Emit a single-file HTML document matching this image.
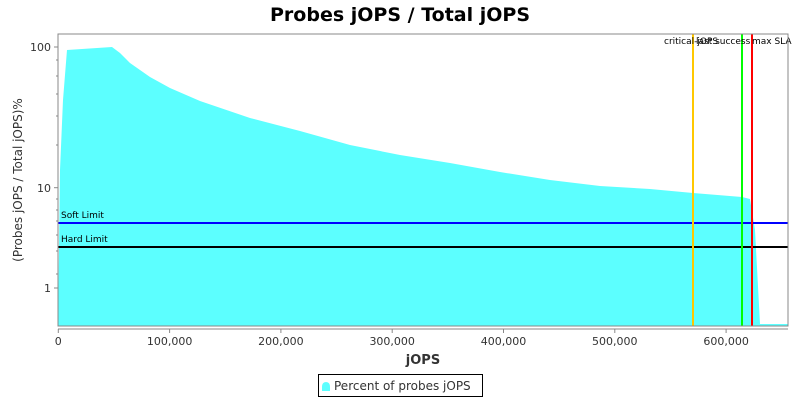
<!DOCTYPE html>
<html><head><meta charset="utf-8"><style>
body{margin:0;background:#fff;width:800px;height:400px;overflow:hidden}
text{font-family:"DejaVu Sans","Liberation Sans",sans-serif}
</style></head><body>
<svg width="800" height="400" viewBox="0 0 800 400" xmlns="http://www.w3.org/2000/svg">
<text x="400" y="21" text-anchor="middle" font-size="19" font-weight="bold">Probes jOPS / Total jOPS</text>
<rect x="58" y="34" width="730" height="292" fill="#fff"/>
<polygon fill="#5cffff" points="58,326 60,170 63,100 67,50 112,47 120,53 130,63 140,70 150,77 170,88 200,101 250,118 300,131 350,145 400,155 450,163 500,172 550,180 600,186 650,189 693,193 742,197 750,199 755,230 760,324 788,324 788,326"/>
<line x1="58" y1="223" x2="788" y2="223" stroke="#0000ff" stroke-width="2"/>
<line x1="58" y1="247" x2="788" y2="247" stroke="#000" stroke-width="2"/>
<text x="61" y="218" font-size="9">Soft Limit</text>
<text x="61" y="242" font-size="9">Hard Limit</text>
<line x1="693" y1="34" x2="693" y2="326" stroke="#ffc800" stroke-width="2"/>
<line x1="742" y1="34" x2="742" y2="326" stroke="#00ff00" stroke-width="2"/>
<line x1="752" y1="34" x2="752" y2="326" stroke="#ff0000" stroke-width="2"/>
<text x="664" y="44" font-size="9">critical-jOPS</text>
<text x="696" y="44" font-size="9">last success</text>
<text x="752" y="44" font-size="9">max SLA</text>
<rect x="58" y="34" width="730" height="292" fill="none" stroke="#888" stroke-width="1"/>
<g stroke="#888" stroke-width="1">
<line x1="54" y1="47" x2="58" y2="47"/><line x1="54" y1="187.7" x2="58" y2="187.7"/><line x1="54" y1="288" x2="58" y2="288"/>
<line x1="56" y1="60" x2="58" y2="60"/><line x1="56" y1="76" x2="58" y2="76"/><line x1="56" y1="94" x2="58" y2="94"/><line x1="56" y1="116" x2="58" y2="116"/><line x1="56" y1="145" x2="58" y2="145"/>
<line x1="56" y1="199" x2="58" y2="199"/><line x1="56" y1="210" x2="58" y2="210"/><line x1="56" y1="221" x2="58" y2="221"/><line x1="56" y1="235" x2="58" y2="235"/><line x1="56" y1="251" x2="58" y2="251"/><line x1="56" y1="274" x2="58" y2="274"/>
<line x1="58" y1="329" x2="788" y2="329"/>
<line x1="58.3" y1="329" x2="58.3" y2="333"/><line x1="169.6" y1="329" x2="169.6" y2="333"/><line x1="280.9" y1="329" x2="280.9" y2="333"/><line x1="392.2" y1="329" x2="392.2" y2="333"/><line x1="503.5" y1="329" x2="503.5" y2="333"/><line x1="614.8" y1="329" x2="614.8" y2="333"/><line x1="726.1" y1="329" x2="726.1" y2="333"/>
</g>
<g font-size="11" fill="#333" text-anchor="end">
<text x="51" y="51">100</text><text x="51" y="192">10</text><text x="51" y="292">1</text>
</g>
<g font-size="11" fill="#333" text-anchor="middle">
<text x="58.3" y="345">0</text><text x="169.6" y="345">100,000</text><text x="280.9" y="345">200,000</text><text x="392.2" y="345">300,000</text><text x="503.5" y="345">400,000</text><text x="614.8" y="345">500,000</text><text x="726.1" y="345">600,000</text>
</g>
<text x="423" y="364" font-size="13" font-weight="bold" fill="#333" text-anchor="middle">jOPS</text>
<text transform="translate(22,180) rotate(-90)" font-size="12" fill="#333" text-anchor="middle">(Probes jOPS / Total jOPS)%</text>
<rect x="318.5" y="374.5" width="164" height="22" fill="#fff" stroke="#000"/>
<path d="M322,391 L322,387 Q322,382 326,382 Q330,382 330,387 L330,391 Z" fill="#5cffff"/>
<text x="334" y="390" font-size="12" fill="#333">Percent of probes jOPS</text>
</svg>
</body></html>
